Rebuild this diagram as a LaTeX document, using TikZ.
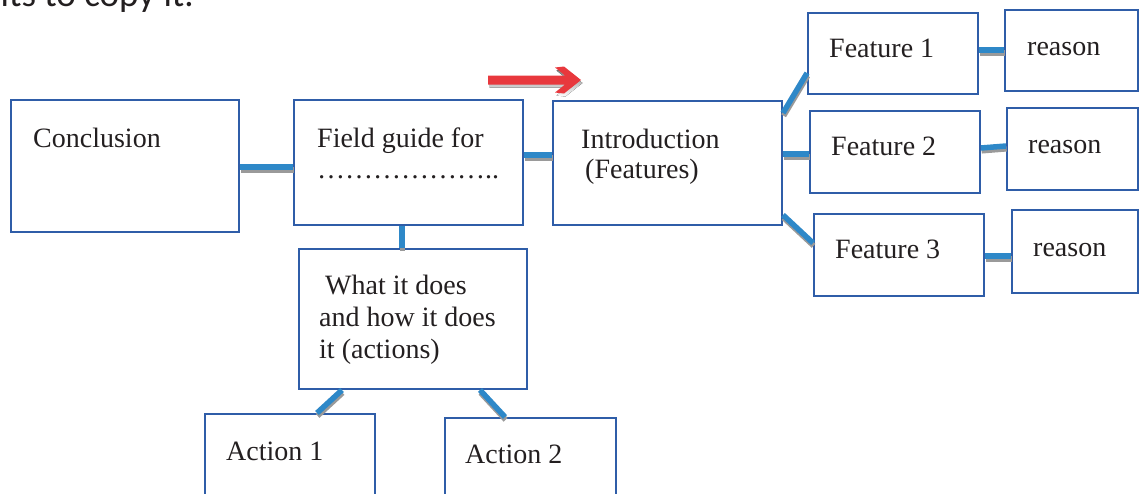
\documentclass[tikz,border=0pt]{standalone}
\usepackage{fontspec}
\setmainfont{Liberation Serif}
\newfontfamily\topfont{Carlito}
\definecolor{boxblue}{HTML}{2F5DA8}
\definecolor{linkblue}{HTML}{2E88C8}
\definecolor{shade}{HTML}{9A9A9A}
\definecolor{arrowred}{HTML}{E8383D}
\definecolor{ink}{HTML}{231F20}
\tikzset{
  box/.style={draw=boxblue, line width=2pt, rectangle, inner sep=0pt,
              anchor=north west, minimum width=#1},
  txt/.style={anchor=base west, inner sep=0pt, text=ink,
              font=\fontsize{28}{30}\selectfont},
  link/.style={draw=linkblue, line width=5.5pt,
               preaction={draw=shade, line width=5.5pt,
                          transform canvas={shift={(0.6pt,-2.8pt)}}}}
}
\begin{document}
\begin{tikzpicture}[x=1pt, y=-1pt]
\useasboundingbox (0,0) rectangle (1139,493);

% heading line running off the top edge
\node[anchor=base east, inner sep=0pt, text=ink,
      font=\topfont\fontsize{37}{40}\selectfont] (head) at (194,6) {its to copy it.};

% boxes
\node[box=228pt, minimum height=132pt] (concl) at (10,99) {};
\node[box=229pt, minimum height=125pt] (field) at (293,99) {};
\node[box=229pt, minimum height=124pt] (intro) at (552,100) {};
\node[box=170pt, minimum height=81pt]  (f1) at (807,12) {};
\node[box=170pt, minimum height=82pt]  (f2) at (809,110) {};
\node[box=170pt, minimum height=82pt]  (f3) at (813,213) {};
\node[box=133pt, minimum height=81pt]  (r1) at (1004,9) {};
\node[box=131pt, minimum height=82pt]  (r2) at (1006,107) {};
\node[box=126pt, minimum height=83pt]  (r3) at (1011,209) {};
\node[box=228pt, minimum height=140pt] (what) at (298,248) {};
\node[box=170pt, minimum height=110pt] (a1) at (204,413) {};
\node[box=171pt, minimum height=110pt] (a2) at (444,417) {};

% labels
\node[txt] (tconcl) at (33,147) {Conclusion};
\node[txt] (tfield) at (317,147) {Field guide for};
\node[txt] (tdots) at (317,178) {………………..};
\node[txt] (tintro) at (581,148) {Introduction};
\node[txt] (tfeat) at (585,178) {(Features)};
\node[txt] (tf1) at (829,57) {Feature 1};
\node[txt] (tf2) at (831,155) {Feature 2};
\node[txt] (tf3) at (835,258) {Feature 3};
\node[txt] (tr1) at (1027,55) {reason};
\node[txt] (tr2) at (1028,153) {reason};
\node[txt] (tr3) at (1033,256) {reason};
\node[txt] (tw1) at (325,294) {What it does};
\node[txt] (tw2) at (319,326) {and how it does};
\node[txt] (tw3) at (319,358) {it (actions)};
\node[txt] (ta1) at (226,460) {Action 1};
\node[txt] (ta2) at (465,463) {Action 2};

% connectors
\draw[link] (concl.east |- 0,167) -- (field.west |- 0,167);
\draw[link] (field.east |- 0,155) -- (intro.west |- 0,155);
\draw[link] (intro.east |- 0,113) -- (f1.west |- 0,73);
\draw[link] (intro.east |- 0,154) -- (f2.west |- 0,154);
\draw[link] (intro.east |- 0,215) -- (f3.west |- 0,243);
\draw[link] (f1.east |- 0,50) -- (r1.west |- 0,50);
\draw[link] (f2.east |- 0,148) -- (r2.west |- 0,146);
\draw[link] (f3.east |- 0,256) -- (r3.west |- 0,256);
\draw[link] (field.south -| 402,0) -- (what.north -| 402,0);
\draw[link] (what.south -| 342,0) -- (a1.north -| 317,0);
\draw[link] (what.south -| 480,0) -- (a2.north -| 505,0);

% block arrow above the middle boxes
\def\arrowpath{(488,75.5) -- (565,75.5) -- (555,67.5) -- (564,66.5) -- (581,80)
  -- (564,93.5) -- (555,92.5) -- (565,84.5) -- (488,84.5) -- cycle}
\fill[shade, shift={(1.5,3)}] \arrowpath;
\fill[arrowred] \arrowpath;
\end{tikzpicture}
\end{document}
